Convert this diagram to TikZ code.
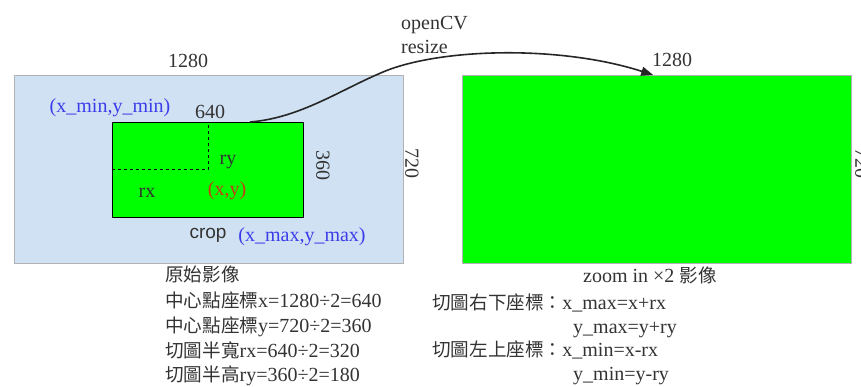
\documentclass[tikz,border=0pt]{standalone}
\usepackage{fontspec}
\setmainfont{Liberation Serif}
\setsansfont{Liberation Sans}
\newfontfamily\cjk[Scale=0.93]{Noto Sans CJK TC}
\usetikzlibrary{arrows.meta,positioning}
\definecolor{bgblue}{RGB}{207,225,242}
\definecolor{imggreen}{RGB}{0,255,0}
\definecolor{lblblue}{RGB}{60,60,235}
\definecolor{lblred}{RGB}{200,60,20}

\begin{document}
\begin{tikzpicture}[x=1pt, y=-1pt, font=\fontsize{20}{24}\selectfont,
  every node/.style={inner sep=0pt, text=black!80},
  txt/.style={anchor=base west},
  dim/.style={rotate=-90}]
  \useasboundingbox (0,0) rectangle (861,387);

  % 1. Anh goc va vung cat
  \node (orig) [draw=gray!60, fill=bgblue, minimum width=389pt, minimum height=188pt, anchor=north west] at (14,75) {};
  \node (crop) [draw=black, line width=1pt, fill=imggreen, minimum width=191pt, minimum height=95pt, anchor=north west] at (112,122) {};
  \draw[dashed, line width=1pt] (crop.west) -- (crop.center) -- (crop.north);

  % 2. Nhan tren anh goc
  \node (w1) at (188,61) {1280};
  \node (h1) [dim] at (412,164) {720};
  \node (w2) at (210,112) {640};
  \node (h2) [dim] at (323,166) {360};
  \node (lry) at (228,162) {ry};
  \node (lrx) at (147,193) {rx};
  \node (ctr) [text=lblred] at (227,191) {(x,y)};
  \node (pmin) [text=lblblue] at (110,108) {(x\_min,y\_min)};
  \node (lcrop) [font=\sffamily\fontsize{19}{22}\selectfont] at (208,235) {crop};
  \node (pmax) [text=lblblue] at (302,237) {(x\_max,y\_max)};

  % 3. Anh phong to
  \node (zoom) [draw=gray!60, fill=imggreen, minimum width=389pt, minimum height=188pt, anchor=north west] at (462,75) {};
  \node (w3) at (672,60) {1280};
  \node (h3) [dim] at (862,164) {720};

  % 4. Mui ten resize
  \coordinate (cropTop) at (250,122);
  \draw[-{Triangle[length=12pt, width=9pt]}, line width=1.6pt, black!85] (cropTop)
    .. controls (300,118) and (340,90) .. (383,72)
    .. controls (440,48) and (560,45) .. ([xshift=-3.5pt]zoom.north);
  \node (cv) [txt] at (401,30) {openCV};
  \node (rs) [txt] at (401,54) {resize};

  % 5. Chu thich phia duoi
  \node (cap1) [txt] at (165,281) {\cjk 原始影像};
  \node (cx) [txt] at (165,307) {{\cjk 中心點座標}x=1280÷2=640};
  \node (cy) [txt] at (165,332) {{\cjk 中心點座標}y=720÷2=360};
  \node (hw) [txt] at (165,357) {{\cjk 切圖半寬}rx=640÷2=320};
  \node (hh) [txt] at (165,381) {{\cjk 切圖半高}ry=360÷2=180};

  \node (cap2) [txt] at (583,282) {zoom in ×2 {\cjk 影像}};
  \node (xmax) [txt] at (432,309) {{\cjk 切圖右下座標：}x\_max=x+rx};
  \node (ymax) [txt] at (573,333) {y\_max=y+ry};
  \node (xmin) [txt] at (432,356) {{\cjk 切圖左上座標：}x\_min=x-rx};
  \node (ymin) [txt] at (573,380) {y\_min=y-ry};
\end{tikzpicture}
\end{document}
